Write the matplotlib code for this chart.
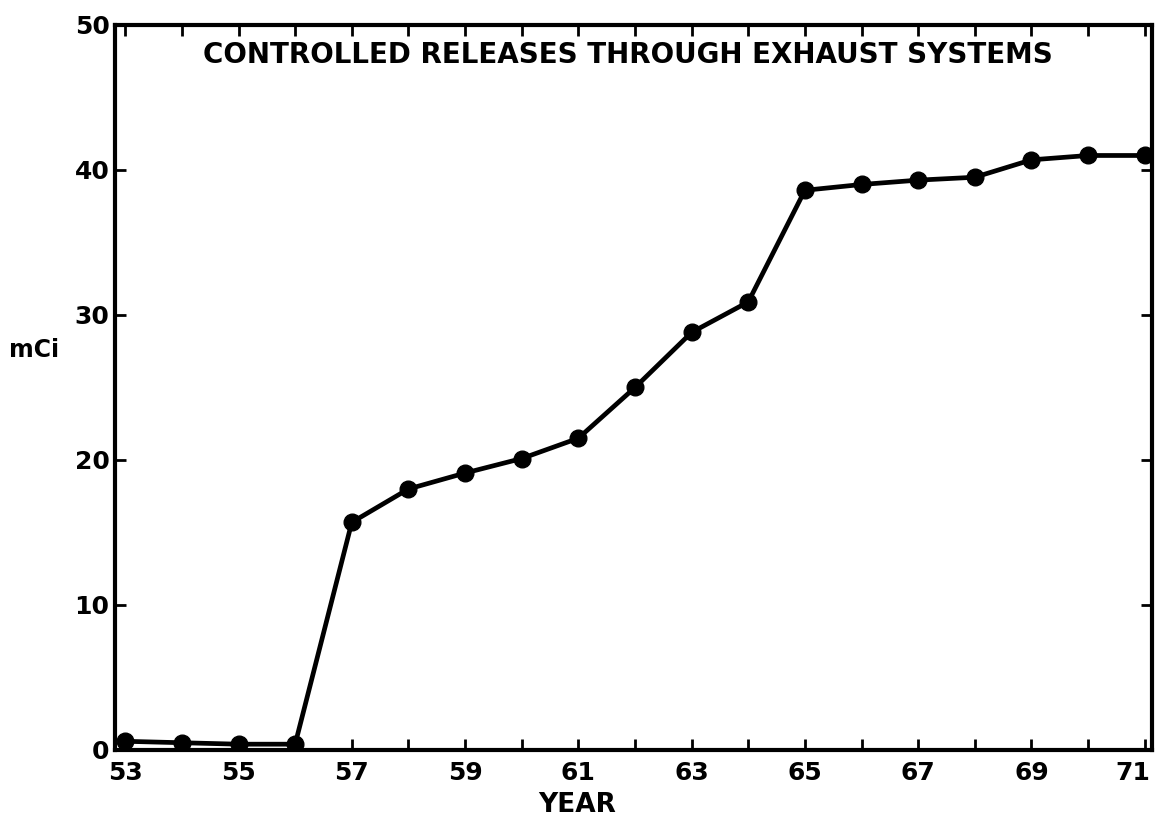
import matplotlib
matplotlib.use("Agg")
import matplotlib.pyplot as plt
import matplotlib.transforms as mtransforms

years = [53, 54, 55, 56, 57, 58, 59, 60, 61, 62, 63, 64, 65, 66, 67, 68, 69, 70, 71]
mci = [0.6, 0.5, 0.4, 0.4, 15.7, 18.0, 19.1, 20.1, 21.5, 25.0, 28.8, 30.9,
       38.6, 39.0, 39.3, 39.5, 40.7, 41.0, 41.0]
xtick_labels = ["53", "55", "57", "59", "61", "63", "65", "67", "69", "71"]
ytick_vals = [0, 10, 20, 30, 40, 50]
title = "CONTROLLED RELEASES THROUGH EXHAUST SYSTEMS"

plt.rcParams['font.family'] = ['DejaVu Sans']
fig = plt.figure(figsize=(11.55, 8.3), dpi=100)
ax = fig.add_axes([0.0996, 0.0964, 0.8974, 0.8735])

ax.plot(years, mci, color='black', lw=3.4, marker='o', markersize=12,
        markerfacecolor='black', markeredgecolor='black', solid_joinstyle='round')

ax.set_xlim(52.82, 71.12)
ax.set_ylim(0, 50)
ax.set_xticks(years)
ax.set_xticklabels([str(y) if str(y) in xtick_labels else "" for y in years])
ax.set_yticks(ytick_vals)
ax.set_yticklabels([str(v) for v in ytick_vals])

for s in ax.spines.values():
    s.set_linewidth(3)
ax.tick_params(axis='both', direction='in', length=8, width=2,
               labelsize=18, top=True, right=True)
ax.tick_params(axis='x', pad=8)
ax.tick_params(axis='y', pad=4)
for lab in ax.get_xticklabels() + ax.get_yticklabels():
    lab.set_fontweight('bold')

# keep the last label inside the figure
fig.canvas.draw()
last = [l for l in ax.get_xticklabels() if l.get_text() == "71"][0]
last.set_transform(last.get_transform() +
                   mtransforms.ScaledTranslation(-12 / 100, 0, fig.dpi_scale_trans))

ax.set_xlabel("YEAR", fontsize=19, fontweight='bold')
ax.xaxis.set_label_coords(0.4455, -0.058)
fig.text(0.008, 0.578, "mCi", fontsize=17, fontweight='bold', ha='left', va='center')

ax.text(0.495, 0.9586, title, transform=ax.transAxes, ha='center', va='center',
        fontsize=20, fontweight='bold')

fig.savefig("out.png", dpi=100)
